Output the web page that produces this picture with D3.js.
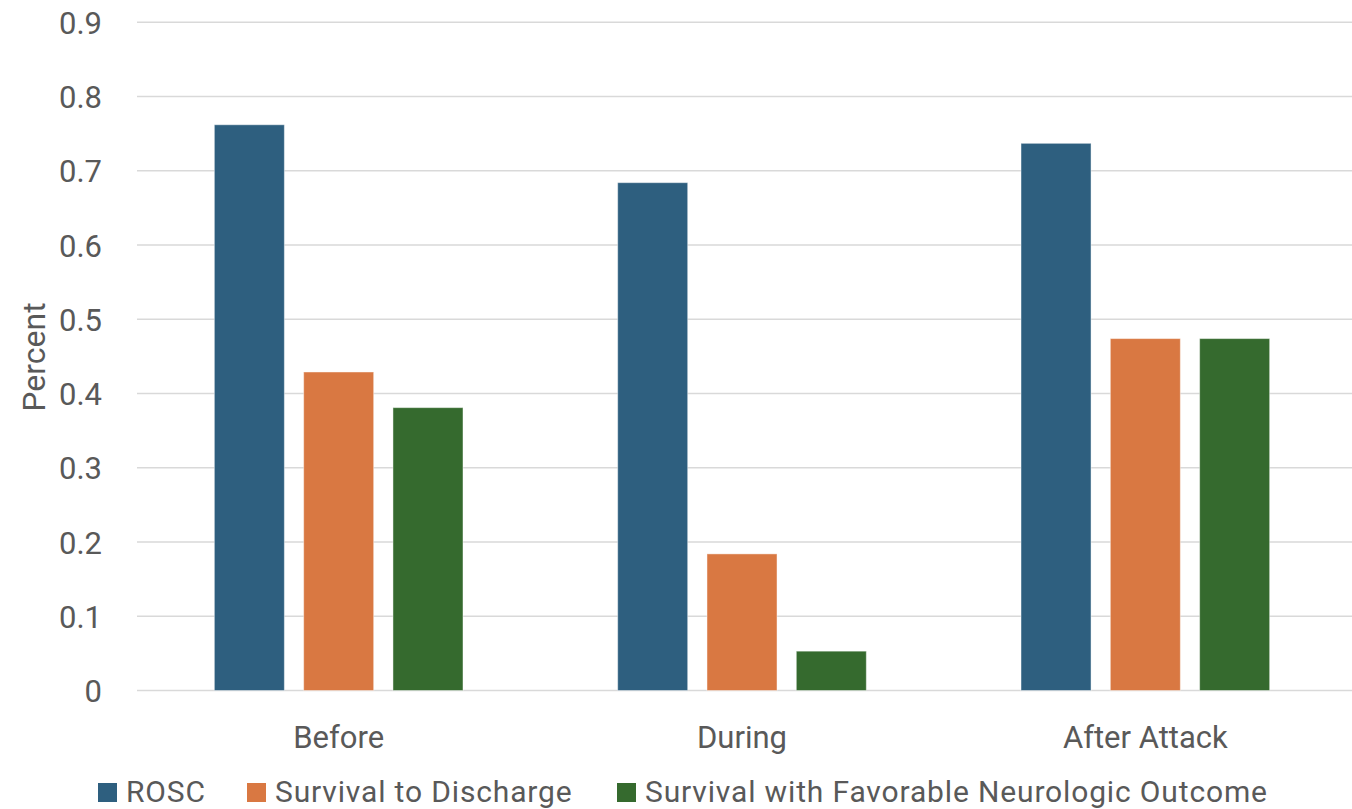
<!DOCTYPE html>
<html>
<head>
<meta charset="utf-8">
<script src="https://cdn.jsdelivr.net/npm/d3@7"></script>
<style>
  html, body { margin: 0; padding: 0; background: #fff; }
  svg { display: block; }
  text { font-family: Roboto, "Noto Sans", sans-serif; fill: #595959; }
</style>
</head>
<body>
<svg id="chart" width="1352" height="809"></svg>
<script>
// Outcome rates by period relative to the attack
const categories = ["Before", "During", "After Attack"];
const seriesNames = ["ROSC", "Survival to Discharge", "Survival with Favorable Neurologic Outcome"];
const rosc = [0.762, 0.684, 0.737];
const survivalDischarge = [0.429, 0.184, 0.474];
const favorableNeuro = [0.381, 0.053, 0.474];
const seriesColors = ["#2e5f7f", "#d97842", "#356a2e"];
const yTicks = [0, 0.1, 0.2, 0.3, 0.4, 0.5, 0.6, 0.7, 0.8, 0.9];

const seriesValues = [rosc, survivalDischarge, favorableNeuro];
const rows = categories.map((c, i) => ({
  category: c,
  values: seriesNames.map((s, j) => ({ series: s, idx: j, value: seriesValues[j][i] }))
}));

const svg = d3.select("#chart");
const plot = { left: 137, right: 1347, top: 22.3, bottom: 690.5 };

const y = d3.scaleLinear().domain([0, 0.9]).range([plot.bottom, plot.top]);
const x0 = d3.scaleBand().domain(categories).range([plot.left, plot.right]).padding(0);
const x1 = d3.scaleBand().domain(seriesNames).range([0, x0.bandwidth()])
  .paddingInner(0.216).paddingOuter(0.866);

// Horizontal gridlines
svg.append("g")
  .selectAll("line")
  .data(yTicks)
  .join("line")
  .attr("x1", plot.left)
  .attr("x2", plot.right + 5)
  .attr("y1", d => y(d))
  .attr("y2", d => y(d))
  .attr("stroke", "#d9d9d9")
  .attr("stroke-width", 1.5);

// Y axis tick labels
const yAxis = d3.axisLeft(y).tickValues(yTicks).tickSize(0).tickPadding(0)
  .tickFormat(d => d === 0 ? "0" : d3.format(".1f")(d));
const yg = svg.append("g").attr("transform", `translate(102,0)`).call(yAxis);
yg.select(".domain").remove();
yg.selectAll("text")
  .attr("font-size", 31)
  .attr("fill", "#595959")
  .attr("dy", "0.36em")
  .style("font-family", "Roboto, 'Noto Sans', sans-serif");

// Bars
const groups = svg.append("g")
  .selectAll("g")
  .data(rows)
  .join("g")
  .attr("transform", d => `translate(${x0(d.category)},0)`);

groups.selectAll("rect")
  .data(d => d.values)
  .join("rect")
  .attr("x", d => x1(d.series))
  .attr("width", x1.bandwidth())
  .attr("y", d => y(d.value))
  .attr("height", d => y(0) - y(d.value))
  .attr("fill", d => seriesColors[d.idx])
  .attr("stroke", "rgba(255,255,255,0.45)")
  .attr("stroke-width", 1);

// X axis category labels
const xAxis = d3.axisBottom(x0).tickSize(0).tickPadding(0);
const xg = svg.append("g").attr("transform", `translate(0,${plot.bottom})`).call(xAxis);
xg.select(".domain").remove();
xg.selectAll("text")
  .attr("font-size", 31)
  .attr("fill", "#595959")
  .attr("y", 0)
  .attr("dy", 57)
  .style("font-family", "Roboto, 'Noto Sans', sans-serif");

// Y axis title
svg.append("text")
  .attr("transform", `translate(45,357) rotate(-90)`)
  .attr("text-anchor", "middle")
  .attr("font-size", 32)
  .text("Percent");

// Legend
const legendX = [98, 247, 617];
const legend = svg.append("g")
  .selectAll("g")
  .data(seriesNames)
  .join("g")
  .attr("transform", (d, i) => `translate(${legendX[i]},783)`);
legend.append("rect")
  .attr("width", 19).attr("height", 19)
  .attr("fill", (d, i) => seriesColors[i]);
legend.append("text")
  .attr("x", 28)
  .attr("y", 19)
  .attr("font-size", 30)
  .attr("letter-spacing", 0.85)
  .text(d => d);
</script>
</body>
</html>
